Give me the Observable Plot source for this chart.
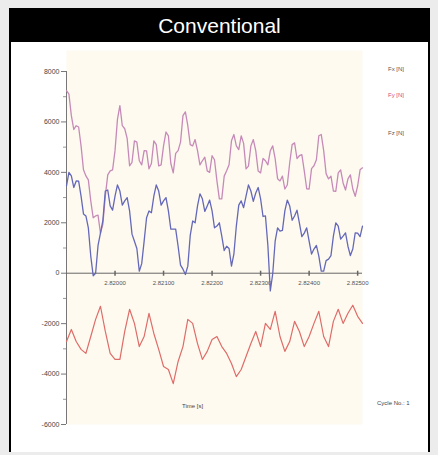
<!DOCTYPE html>
<html>
<head>
<meta charset="utf-8">
<script src="https://cdn.jsdelivr.net/npm/d3@7"></script>
<script src="https://cdn.jsdelivr.net/npm/@observablehq/plot@0.6"></script>
<style>
  body { margin: 0; background: #ececec; width: 438px; height: 455px; overflow: hidden; font-family: "Liberation Sans", Arial, sans-serif; }
  #card { position: absolute; left: 9px; top: 8px; width: 421px; }
  #title { background: #000; color: #fff; height: 34px; font-size: 21px; line-height: 36px; text-align: center; }
  #chart { position: relative; background: #fff; border-left: 2px solid #000; border-right: 2px solid #000; height: 410px; }
  .lab { position: absolute; font-size: 6px; color: #555; white-space: nowrap; }
</style>
</head>
<body>
<div id="card">
  <div id="title">Conventional</div>
  <div id="chart"></div>
</div>
<script>
const time = [2.8190,2.8191,2.8192,2.8193,2.8194,2.8195,2.8196,2.8197,2.8198,2.8199,
  2.8200,2.8201,2.8202,2.8203,2.8204,2.8205,2.8206,2.8207,2.8208,2.8209,
  2.8210,2.8211,2.8212,2.8213,2.8214,2.8215,2.8216,2.8217,2.8218,2.8219,
  2.8220,2.8221,2.8222,2.8223,2.8224,2.8225,2.8226,2.8227,2.8228,2.8229,
  2.8230,2.8231,2.8232,2.8233,2.8234,2.8235,2.8236,2.8237,2.8238,2.8239,
  2.8240,2.8241,2.8242,2.8243,2.8244,2.8245,2.8246,2.8247,2.8248,2.8249,
  2.8250,2.8251];
const timeMid = [2.81905,2.81915,2.81925,2.81935,2.81945,2.81955,2.81965,2.81975,2.81985,2.81995,
  2.82005,2.82015,2.82025,2.82035,2.82045,2.82055,2.82065,2.82075,2.82085,2.82095,
  2.82105,2.82115,2.82125,2.82135,2.82145,2.82155,2.82165,2.82175,2.82185,2.82195,
  2.82205,2.82215,2.82225,2.82235,2.82245,2.82255,2.82265,2.82275,2.82285,2.82295,
  2.82305,2.82315,2.82325,2.82335,2.82345,2.82355,2.82365,2.82375,2.82385,2.82395,
  2.82405,2.82415,2.82425,2.82435,2.82445,2.82455,2.82465,2.82475,2.82485,2.82495,
  2.82505];
const fx = [3460,3860,3660,3060,2270,680,0,1590,3260,2670,
  3060,3260,2870,2470,1270,80,1270,2470,3060,3260,
  2870,2470,1750,1070,160,280,2070,2670,2950,2670,
  2470,1870,1470,1070,280,1870,2870,3060,3260,3180,
  2950,2270,-700,1270,1670,2470,2670,2270,1990,1590,
  1270,960,680,80,560,1470,1870,1470,1070,960,
  1590,1870];
const fxMid = [4000,3400,3650,2350,1800,-100,1100,2100,3300,2500,
  3500,2700,3000,1550,980,380,2200,2400,3500,2700,
  3000,1750,1750,320,-50,1500,2000,3150,2450,2900,
  1800,2000,900,980,770,2700,2600,3500,2850,3400,
  2250,1100,-20,1800,1700,2900,2100,2500,1450,1800,
  760,1100,80,500,700,2000,1350,1600,700,1600,
  1450];
const fy = [7240,6250,5850,5050,3860,2870,2270,1590,3060,4060,
  4860,6650,5730,4260,5250,4460,4860,4140,5250,4260,
  5050,5450,3980,4860,6250,5850,5050,4860,4460,4060,
  4660,3660,2950,4060,5250,5050,5450,4140,5050,4860,
  3980,4460,4860,4540,3660,3340,4380,5170,4660,4060,
  3340,4260,5450,4860,3740,3260,3980,3580,3740,3340,
  3460,4180];
const fyMid = [7100,5700,5800,4100,3700,2200,2300,1950,3900,4100,
  6100,5850,5350,4400,5200,4300,4850,4350,5100,4300,
  5600,4350,4750,5200,6400,5100,5300,4300,4600,4000,
  4500,2950,3850,4300,5500,4900,5150,4250,5300,4050,
  4550,4300,5050,3750,3850,3500,5100,4550,4700,3350,
  4150,4500,5500,3950,3850,3250,4100,3300,3900,3050,
  4100];
const fz = [-2710,-2230,-2710,-3020,-3180,-2510,-1830,-1310,-2310,-3180,
  -3420,-3420,-2310,-1430,-1990,-2910,-2510,-1590,-2390,-3020,
  -3700,-3820,-4380,-3500,-2910,-1830,-1990,-2790,-3420,-3100,
  -2630,-2510,-2910,-3180,-3580,-4100,-3820,-3300,-2790,-2310,
  -2910,-1990,-2230,-1510,-2510,-3100,-2710,-1910,-2310,-2910,
  -2510,-1990,-1510,-2510,-2910,-1910,-1430,-1990,-1590,-1270,
  -1710,-1990];
const yTicks = [-6000,-4000,-2000,0,2000,4000,6000,8000];
const yMinor = [-5000,-3000,-1000,1000,3000,5000,7000];
const xTicks = [2.820,2.821,2.822,2.823,2.824,2.825];
const seriesNames = ["Fx [N]","Fy [N]","Fz [N]"];
const colors = {fx: "#6468b8", fy: "#c68ab8", fz: "#de6c68"};

const tickSym = { draw(ctx, size) { ctx.moveTo(0, -2.5); ctx.lineTo(0, 2.5); } };

const mk = (vals) => time.map((t, i) => ({t, v: vals[i]}));
const mkNoisy = (vals, mids) => time.map((t, i) => ({t, v: vals[i]}))
  .concat(timeMid.map((t, i) => ({t, v: mids[i]})))
  .sort((a, b) => a.t - b.t);

const chart = Plot.plot({
  width: 417, height: 408,
  marginLeft: 55, marginRight: 66, marginTop: 29, marginBottom: 26,
  style: {background: "transparent", color: "#555", fontFamily: "Liberation Sans, Arial, sans-serif"},
  x: {domain: [2.8190, 2.8251], axis: null},
  y: {domain: [-6000, 8000], axis: null},
  marks: [
    Plot.frame({fill: "#fefaf0", stroke: null, insetTop: -21}),
    Plot.axisY({ticks: yTicks, tickSize: 5, tickPadding: 2, fontSize: 7, tickFormat: d => String(d), label: null, stroke: "#777", fill: "#444"}),
    Plot.axisY({ticks: yMinor, tickSize: 3, tickFormat: () => "", label: null, stroke: "#999"}),
    Plot.ruleX([2.8190], {y1: -6000, y2: 8000, stroke: "#777"}),
    Plot.ruleY([0], {stroke: "#666"}),
    Plot.dot(xTicks, {x: d => d, y: 0, symbol: tickSym, stroke: "#666", r: 3}),
    Plot.text(xTicks, {x: d => d, y: 0, dy: 10, text: d => d.toFixed(5), fontSize: 6, fill: "#555"}),
    Plot.line(mk(fz), {x: "t", y: "v", stroke: colors.fz, strokeWidth: 1.2}),
    Plot.line(mkNoisy(fy, fyMid), {x: "t", y: "v", stroke: colors.fy, strokeWidth: 1.3}),
    Plot.line(mkNoisy(fx, fxMid), {x: "t", y: "v", stroke: colors.fx, strokeWidth: 1.3})
  ]
});
const host = document.getElementById("chart");
host.appendChild(chart);
chart.style.display = "block";

const labs = [
  {text: seriesNames[0], left: 377, top: 24, color: "#555"},
  {text: seriesNames[1], left: 377, top: 50, color: "#d04a78"},
  {text: seriesNames[2], left: 377, top: 88, color: "#555"},
  {text: "Time [s]", left: 171, top: 361, color: "#444"},
  {text: "Cycle No.: 1", left: 366, top: 358, color: "#444"}
];
for (const l of labs) {
  const d = document.createElement("div");
  d.className = "lab";
  d.textContent = l.text;
  d.style.left = l.left + "px";
  d.style.top = l.top + "px";
  d.style.color = l.color;
  host.appendChild(d);
}
</script>
</body>
</html>
